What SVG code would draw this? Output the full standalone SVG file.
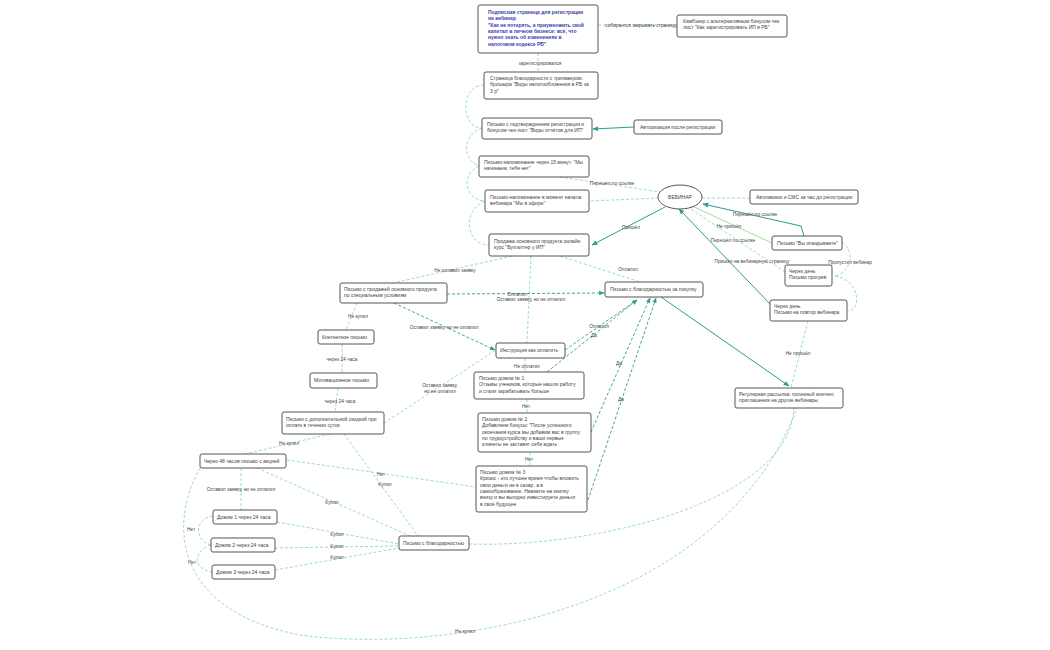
<svg xmlns="http://www.w3.org/2000/svg" width="1050" height="650" viewBox="0 0 1050 650">
<defs>
<style>
.n{fill:#fff;stroke:#555;stroke-width:1}
text{font-family:"Liberation Sans",Arial,sans-serif;font-size:5px;fill:#444}
.b{font-weight:bold;fill:#3a3fb0}
.lb{text-anchor:middle;font-size:4.8px}
.d{fill:none;stroke:#7fd0c4;stroke-width:0.8;stroke-dasharray:3 2}
.s{fill:none;stroke:#2e9c8e;stroke-width:1}
.sd{fill:none;stroke:#2e9c8e;stroke-width:0.9;stroke-dasharray:3 2}
.g{fill:none;stroke:#9ee09a;stroke-width:1}
</style>
<marker id="a" viewBox="0 0 10 10" refX="9" refY="5" markerWidth="6" markerHeight="6" orient="auto"><path d="M0,1 L10,5 L0,9 z" fill="#2e9c8e"/></marker>
</defs>
<rect width="1050" height="650" fill="#fff"/>
<g id="connectors">
<path class="d" d="M538,53 V72"/><text class="lb" x="540" y="65">зарегистрировался</text>
<path class="d" d="M598,25 H677"/><text class="lb" x="641" y="27">собирается закрывать страницу</text>
<path class="d" d="M484,85 C460,85 460,128 482,128"/>
<path class="d" d="M482,128 C462,135 462,160 479,166"/>
<path class="d" d="M479,166 C460,175 465,200 485,201"/>
<path class="d" d="M485,201 C462,210 465,245 489,245"/>
<path class="s" marker-end="url(#a)" d="M634,127 L593,129"/>
<path class="d" d="M560,177 L660,192"/><text class="lb" x="612" y="185">Перешёл по ссылке</text>
<path class="d" d="M659,198 L589,201"/>
<path class="d" d="M750,198 L702,198"/>
<path class="s" marker-end="url(#a)" d="M665,207 L592,245"/><text class="lb" x="631" y="229">Пришёл</text>
<path class="s" marker-end="url(#a)" d="M804,236 L801,226 L703,204"/><text class="lb" x="755" y="216">Перешёл по ссылке</text>
<path class="g" d="M692,206 L772,243"/><text class="lb" x="729" y="228">Не пришёл</text>
<path class="d" d="M785,272 L688,207"/><text class="lb" x="733" y="242">Перешёл по ссылке</text>
<path class="s" marker-end="url(#a)" d="M771,305 L679,209"/><text class="lb" x="752" y="263">Пришёл на вебинарную страницу</text>
<path class="d" d="M842,242 C855,250 852,272 835,276"/><text class="lb" x="850" y="264">Пропустил вебинар</text>
<path class="d" d="M835,276 C860,280 862,310 848,311"/>
<path class="d" d="M808,321 L791,388"/><text class="lb" x="798" y="355">Не пришёл</text>
<path class="s" marker-end="url(#a)" d="M661,297 L789,386"/>
<path class="d" d="M512,256 L393,283"/><text class="lb" x="455" y="272">Не оставил заявку</text>
<path class="d" d="M560,256 L640,282"/><text class="lb" x="628" y="271">Оплатил</text>
<path class="d" d="M531,256 L527,343"/><text class="lb" x="531" y="301">Оставил заявку, но не оплатил</text>
<path class="sd" marker-end="url(#a)" d="M447,294 L604,293"/><text class="lb" x="517" y="296">Оплатил</text>
<path class="sd" marker-end="url(#a)" d="M394,303 L495,350"/><text class="lb" x="444" y="329">Оставил заявку, но не оплатил</text>
<path class="d" d="M357,303 L346,330"/><text class="lb" x="358" y="318">Не купил</text>
<path class="d" d="M342,344 V373"/><text class="lb" x="342" y="361">через 24 часа</text>
<path class="d" d="M338,388 L335,412"/><text class="lb" x="340" y="403">через 24 часа</text>
<path class="d" d="M384,423 L496,350"/><text class="lb" x="440" y="387">Оставил заявку,</text><text class="lb" x="440" y="393">но не оплатил</text>
<path class="sd" marker-end="url(#a)" d="M565,350 L637,300"/><text class="lb" x="599" y="328">Оплатил</text>
<path class="sd" marker-end="url(#a)" d="M547,372 L637,300"/><text class="lb" x="594" y="337">Да</text>
<path class="d" d="M525,358 V372"/><text class="lb" x="527" y="368">Не оплатил</text>
<path class="d" d="M527,399 V413"/><text class="lb" x="526" y="408">Нет</text>
<path class="d" d="M530,452 V466"/><text class="lb" x="529" y="461">Нет</text>
<path class="sd" marker-end="url(#a)" d="M591,432 L650,298"/><text class="lb" x="619" y="365">Да</text>
<path class="sd" marker-end="url(#a)" d="M588,500 L656,298"/><text class="lb" x="621" y="401">Да</text>
<path class="d" d="M330,434 L245,454"/><text class="lb" x="289" y="445">Не купил</text>
<path class="d" d="M344,434 L418,536"/><text class="lb" x="385" y="486">Купил</text>
<path class="d" d="M287,460 L476,487"/><text class="lb" x="381" y="476">Нет</text>
<path class="d" d="M241,468 V510"/><text class="lb" x="241" y="491">Оставил заявку, но не оплатил</text>
<path class="d" d="M257,468 L410,536"/><text class="lb" x="332" y="504">Купил</text>
<path class="d" d="M277,522 L399,544"/><text class="lb" x="337" y="536">Купил</text>
<path class="d" d="M275,548 L399,546"/><text class="lb" x="337" y="548">Купил</text>
<path class="d" d="M275,570 L399,548"/><text class="lb" x="337" y="559">Купил</text>
<path class="d" d="M213,516 C195,518 193,540 211,545"/><text class="lb" x="191" y="531">Нет</text>
<path class="d" d="M211,545 C195,550 190,568 212,572"/><text class="lb" x="192" y="564">Нет</text>
<path class="d" d="M469,544 C600,548 790,500 794,408"/>
<path class="d" d="M200,468 C170,520 170,610 300,635 C450,655 720,610 797,408"/><text class="lb" x="465" y="633">Не купил</text>
</g>
<g id="n1"><rect class="n" x="478" y="5" width="120" height="48" rx="2"/><text class="b" x="488" y="14">Подписная страница для регистрации<tspan x="488" dy="6.3">на вебинар</tspan><tspan x="488" dy="6.3">"Как не потерять, а приумножить свой</tspan><tspan x="488" dy="6.3">капитал в личном бизнесе: всё, что</tspan><tspan x="488" dy="6.3">нужно знать об изменениях в</tspan><tspan x="488" dy="6.3">налоговом кодексе РБ"</tspan></text></g>
<g id="n2"><rect class="n" x="677" y="15" width="110" height="22" rx="2"/><text x="683" y="23">Камбэкер с альтернативным бонусом чек<tspan x="683" dy="6.3">лист "Как зарегистрировать ИП в РБ"</tspan></text></g>
<g id="n3"><rect class="n" x="484" y="72" width="114" height="27" rx="2"/><text x="490" y="80">Страница благодарности с трипваером:<tspan x="490" dy="6.3">брошюра "Виды налогообложения в РБ за</tspan><tspan x="490" dy="6.3">3 р"</tspan></text></g>
<g id="n4"><rect class="n" x="482" y="118" width="110" height="21" rx="2"/><text x="487" y="126">Письмо с подтверждением регистрации и<tspan x="487" dy="6.3">бонусом чек-лист "Виды отчётов для ИП"</tspan></text></g>
<g id="n5"><rect class="n" x="634" y="120" width="88" height="14" rx="2"/><text x="640" y="129">Авторизация после регистрации</text></g>
<g id="n6"><rect class="n" x="479" y="156" width="110" height="21" rx="2"/><text x="484" y="164">Письмо-напоминание через 15 минут. "Мы<tspan x="484" dy="6.3">начинаем, тебя нет"</tspan></text></g>
<g id="n7"><rect class="n" x="485" y="190" width="104" height="22" rx="2"/><text x="490" y="199">Письмо-напоминание в момент начала<tspan x="490" dy="6.3">вебинара "Мы в эфире"</tspan></text></g>
<g id="n8"><ellipse class="n" cx="680" cy="197" rx="22" ry="12"/><text x="680" y="199" text-anchor="middle">ВЕБИНАР</text></g>
<g id="n9"><rect class="n" x="750" y="190" width="108" height="14" rx="2"/><text x="756" y="199">Автозвонок и СМС за час до регистрации</text></g>
<g id="n10"><rect class="n" x="489" y="234" width="100" height="22" rx="2"/><text x="494" y="243">Продажа основного продукта онлайн<tspan x="494" dy="6.3">курс "Бухгалтер у ИП"</tspan></text></g>
<g id="n11"><rect class="n" x="772" y="236" width="70" height="14" rx="2"/><text x="777" y="245">Письмо "Вы опаздываете"</text></g>
<g id="n12"><rect class="n" x="785" y="265" width="47" height="21" rx="2"/><text x="789" y="273">Через день<tspan x="789" dy="6.3">Письмо прогрев</tspan></text></g>
<g id="n13"><rect class="n" x="770" y="300" width="77" height="21" rx="2"/><text x="774" y="308">Через день<tspan x="774" dy="6.3">Письмо на повтор вебинара</tspan></text></g>
<g id="n14"><rect class="n" x="735" y="388" width="108" height="20" rx="2"/><text x="739" y="396">Регулярная рассылка: полезный контент,<tspan x="739" dy="6.3">приглашения на другие вебинары</tspan></text></g>
<g id="n15"><rect class="n" x="340" y="283" width="107" height="20" rx="2"/><text x="344" y="291">Письмо с продажей основного продукта<tspan x="344" dy="6.3">по специальным условиям</tspan></text></g>
<g id="n16"><rect class="n" x="605" y="282" width="98" height="15" rx="2"/><text x="610" y="291">Письмо с благодарностью за покупку</text></g>
<g id="n17"><rect class="n" x="318" y="330" width="56" height="14" rx="2"/><text x="322" y="339">Контентное письмо</text></g>
<g id="n18"><rect class="n" x="496" y="343" width="69" height="15" rx="2"/><text x="500" y="352">Инструкция как оплатить</text></g>
<g id="n19"><rect class="n" x="310" y="373" width="67" height="15" rx="2"/><text x="314" y="382">Мотивационное письмо</text></g>
<g id="n20"><rect class="n" x="474" y="372" width="110" height="27" rx="2"/><text x="479" y="380">Письмо дожим № 1<tspan x="479" dy="6.3">Отзывы учеников, которые нашли работу</tspan><tspan x="479" dy="6.3">и стали зарабатывать больше</tspan></text></g>
<g id="n21"><rect class="n" x="282" y="412" width="102" height="22" rx="2"/><text x="286" y="421">Письмо с дополнительной скидкой при<tspan x="286" dy="6.3">оплате в течении суток</tspan></text></g>
<g id="n22"><rect class="n" x="478" y="413" width="113" height="39" rx="2"/><text x="482" y="421">Письмо дожим № 2<tspan x="482" dy="6.3">Добавляем бонусы: "После успешного</tspan><tspan x="482" dy="6.3">окончания курса мы добавим вас в группу</tspan><tspan x="482" dy="6.3">по трудоустройству и ваши первые</tspan><tspan x="482" dy="6.3">клиенты не заставят себя ждать</tspan></text></g>
<g id="n23"><rect class="n" x="200" y="454" width="86" height="14" rx="2"/><text x="204" y="463">Через 48 часов письмо с акцией</text></g>
<g id="n24"><rect class="n" x="476" y="466" width="111" height="46" rx="2"/><text x="480" y="474">Письмо дожим № 3<tspan x="480" dy="6.3">Кризис - это лучшее время чтобы вложить</tspan><tspan x="480" dy="6.3">свои деньги не в сахар, а в</tspan><tspan x="480" dy="6.3">самообразование. Нажмите на кнопку</tspan><tspan x="480" dy="6.3">внизу и вы выгодно инвестируете деньги</tspan><tspan x="480" dy="6.3">в своё будущее</tspan></text></g>
<g id="n25"><rect class="n" x="213" y="510" width="64" height="14" rx="2"/><text x="217" y="519">Дожим 1 через 24 часа</text></g>
<g id="n26"><rect class="n" x="211" y="538" width="64" height="14" rx="2"/><text x="215" y="547">Дожим 2 через 24 часа</text></g>
<g id="n27"><rect class="n" x="212" y="565" width="63" height="14" rx="2"/><text x="216" y="574">Дожим 3 через 24 часа</text></g>
<g id="n28"><rect class="n" x="399" y="536" width="70" height="14" rx="2"/><text x="403" y="545">Письмо с благодарностью</text></g>
</svg>
